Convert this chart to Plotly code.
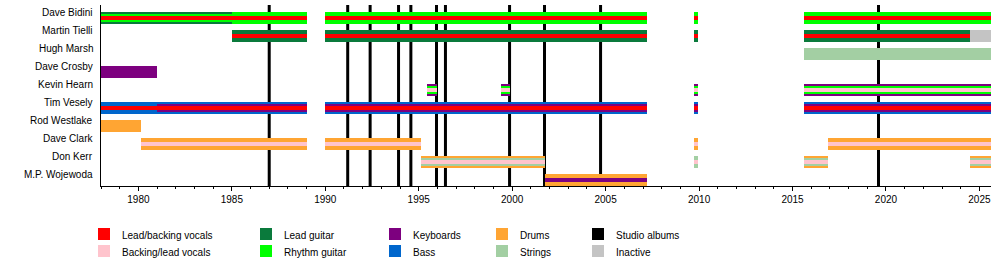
import plotly.graph_objects as go

# ---------------- data ----------------
members = ["Dave Bidini", "Martin Tielli", "Hugh Marsh", "Dave Crosby", "Kevin Hearn",
           "Tim Vesely", "Rod Westlake", "Dave Clark", "Don Kerr", "M.P. Wojewoda"]

role_names = ["Lead/backing vocals", "Backing/lead vocals", "Lead guitar", "Rhythm guitar",
              "Keyboards", "Bass", "Drums", "Strings", "Studio albums", "Inactive"]
role_colors = ["#ff0000", "#ffc4cd", "#0a7a3c", "#00ff00",
               "#7d007f", "#0066cc", "#ffa533", "#a3cfa3", "#000000", "#c4c4c4"]

NOW = 2025.62
START = 1978.0

album_years = [1987.0, 1991.2, 1992.4, 1993.92, 1994.58, 1995.95, 1996.43,
               1999.86, 2001.73, 2004.73, 2019.6]

V, BV, LG, RG, KB, BS, DR, ST, IN = ("Lead/backing vocals", "Backing/lead vocals", "Lead guitar",
                                     "Rhythm guitar", "Keyboards", "Bass", "Drums", "Strings", "Inactive")

period_member = [
    "Dave Bidini", "Dave Bidini", "Dave Bidini", "Dave Bidini", "Dave Bidini",
    "Martin Tielli", "Martin Tielli", "Martin Tielli", "Martin Tielli", "Martin Tielli",
    "Hugh Marsh",
    "Dave Crosby",
    "Kevin Hearn", "Kevin Hearn", "Kevin Hearn", "Kevin Hearn",
    "Tim Vesely", "Tim Vesely", "Tim Vesely", "Tim Vesely", "Tim Vesely",
    "Rod Westlake",
    "Dave Clark", "Dave Clark", "Dave Clark", "Dave Clark",
    "Don Kerr", "Don Kerr", "Don Kerr", "Don Kerr",
    "M.P. Wojewoda",
]
period_start = [
    1978.0, 1985.0, 1990.0, 2009.75, 2015.6,
    1985.0, 1990.0, 2009.75, 2015.6, 2024.5,
    2015.6,
    1978.0,
    1995.43, 1999.42, 2009.75, 2015.6,
    1978.0, 1981.0, 1990.0, 2009.75, 2015.6,
    1978.0,
    1980.15, 1990.0, 2009.75, 2016.88,
    1995.1, 2009.75, 2015.6, 2024.5,
    2001.77,
]
period_end = [
    1985.0, 1989.0, 2007.2, 2009.92, NOW,
    1989.0, 2007.2, 2009.92, 2024.5, NOW,
    NOW,
    1981.0,
    1996.0, 1999.9, 2009.92, NOW,
    1981.0, 1989.0, 2007.2, 2009.92, NOW,
    1980.15,
    1989.0, 1995.12, 2009.92, NOW,
    2001.77, 2009.92, 2016.9, NOW,
    2007.2,
]
period_roles = [
    [LG, RG, V], [RG, V], [RG, V], [RG, V], [RG, V],
    [LG, V], [LG, V], [LG, V], [LG, V], [IN],
    [ST],
    [KB],
    [KB, RG, BV], [KB, RG, BV], [KB, RG, BV], [KB, RG, BV],
    [BS, V], [BS, KB, V], [BS, KB, V], [BS, KB, V], [BS, KB, V],
    [DR],
    [DR, BV], [DR, BV], [DR, BV], [DR, BV],
    [DR, ST, BV], [ST, BV], [DR, ST, BV], [DR, ST, BV],
    [DR, KB],
]

# ---------------- figure ----------------
W, H = 1000, 260
ML, MR, MT, MB = 101, 9, 5, 74
PW, PH = W - ML - MR, H - MT - MB
ROW_PX = 18.0
color_of = dict(zip(role_names, role_colors))
idx_of = {m: i for i, m in enumerate(members)}

# bar thickness (px) by layer depending on number of layers
thick = {1: [12], 2: [12, 4], 3: [12, 8, 4]}

fig = go.Figure()
for level in range(3):
    ys, xs, bases, cols, wids = [], [], [], [], []
    for m, s, e, roles in zip(period_member, period_start, period_end, period_roles):
        if level < len(roles):
            ys.append(idx_of[m])
            bases.append(s)
            xs.append(e - s)
            cols.append(color_of[roles[level]])
            wids.append(thick[len(roles)][level] / ROW_PX)
    fig.add_trace(go.Bar(orientation="h", y=ys, x=xs, base=bases, width=wids,
                         marker=dict(color=cols, line=dict(width=0)),
                         showlegend=False, hoverinfo="skip"))

for a in album_years:
    fig.add_shape(type="line", x0=a, x1=a, xref="x", y0=0, y1=1, yref="paper",
                  line=dict(color="black", width=3), layer="below")

font = dict(family="Liberation Sans, Arial, sans-serif", size=10, color="#000")

for m in members:
    fig.add_annotation(x=0, xref="paper", y=idx_of[m], yref="y", text=m, showarrow=False,
                       xanchor="right", yanchor="middle", xshift=-6, yshift=5.5, font=font)

# legend (custom grid, 5 columns x 2 rows)
col_sq_x = [98, 260, 389, 496, 592]
col_tx_x = [120, 282, 411, 518, 614]
row_sq_y = [228, 245]
row_tx_y = [235, 252]


def px_x(px):
    return (px - ML) / PW


def px_y(py):
    return (H - MB - py) / PH


for k, (name, col) in enumerate(zip(role_names, role_colors)):
    c, r = k // 2, k % 2
    fig.add_shape(type="rect", xref="paper", yref="paper",
                  x0=px_x(col_sq_x[c]), x1=px_x(col_sq_x[c] + 12),
                  y0=px_y(row_sq_y[r]), y1=px_y(row_sq_y[r] + 12),
                  fillcolor=col, line=dict(width=0))
    fig.add_annotation(x=px_x(col_tx_x[c]), xref="paper", y=px_y(row_tx_y[r]), yref="paper",
                       text=name, showarrow=False, xanchor="left", yanchor="middle", font=font)

fig.update_layout(
    width=W, height=H, margin=dict(l=ML, r=MR, t=MT, b=MB),
    paper_bgcolor="white", plot_bgcolor="white", barmode="overlay", bargap=0,
    showlegend=False, font=font,
    xaxis=dict(range=[START, NOW], showgrid=False, zeroline=False, showline=True,
               linecolor="black", linewidth=1, ticks="outside", ticklen=4, tickcolor="black",
               tick0=1980, dtick=5, tickfont=font,
               minor=dict(ticks="outside", ticklen=2, dtick=1, tickcolor="black", showgrid=False)),
    yaxis=dict(range=[9.33, -0.72], showgrid=False, zeroline=False, showline=True,
               linecolor="black", linewidth=1, showticklabels=False, ticks=""),
)

fig.write_html("out.html")
